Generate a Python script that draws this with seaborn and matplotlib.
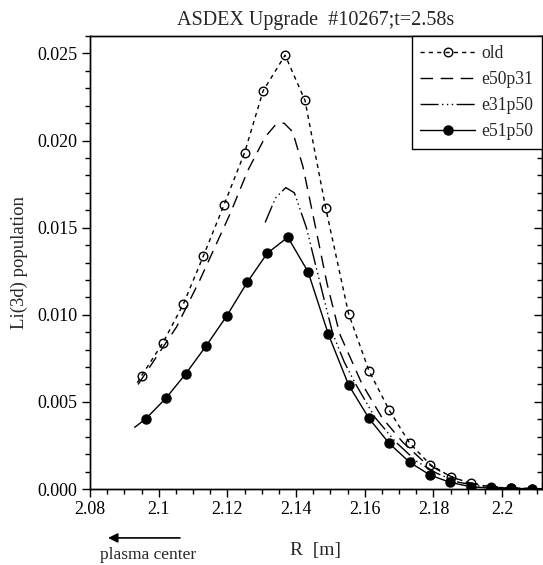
import matplotlib
matplotlib.use("Agg")
import matplotlib.pyplot as plt
import seaborn as sns
from matplotlib.lines import Line2D
from matplotlib.ticker import MultipleLocator, FixedLocator

# ---------------- data ----------------
# "old" (dashed, open circles); first point is the line start (no marker)
R_old = [2.0938, 2.0950, 2.1012, 2.1072, 2.1130, 2.1190, 2.1250, 2.1304, 2.1368,
         2.1426, 2.1486, 2.1553, 2.1612, 2.1671, 2.1731, 2.1791, 2.1850, 2.1908,
         2.1967, 2.2026, 2.2088]
v_old = [0.0061, 0.0065, 0.00838, 0.01062, 0.01337, 0.0163, 0.0193, 0.02285, 0.0249,
         0.0223, 0.01615, 0.01005, 0.0068, 0.00453, 0.00262, 0.0014, 0.00071, 0.00033,
         0.00012, 0.00005, 0.00002]

# "e50p31" (long dashes)
R_e50 = [2.0940, 2.0994, 2.1052, 2.1120, 2.1208, 2.1260, 2.1310, 2.1340, 2.1365,
         2.1390, 2.1420, 2.1460, 2.1490, 2.1527, 2.1591, 2.1650, 2.1710, 2.1770,
         2.1830, 2.1890, 2.1950, 2.2010, 2.2120]
v_e50 = [0.0060, 0.0076, 0.0093, 0.0120, 0.0158, 0.0183, 0.0202, 0.0209, 0.0210,
         0.0205, 0.0185, 0.0147, 0.0118, 0.0089, 0.00607, 0.0041, 0.0027, 0.0016,
         0.0009, 0.0004, 0.0002, 0.00008, 0.00001]

# "e31p50" (dash-dot-dot-dot)
R_e31 = [2.1310, 2.1340, 2.1370, 2.1395, 2.1430, 2.1470, 2.1507, 2.1540, 2.1572,
         2.1630, 2.1690, 2.1750, 2.1810, 2.1870, 2.1930, 2.1990, 2.2120]
v_e31 = [0.0153, 0.0167, 0.0173, 0.0170, 0.0150, 0.0118, 0.0089, 0.0073, 0.00607,
         0.0041, 0.0027, 0.0016, 0.0009, 0.0004, 0.00018, 0.00007, 0.00001]

# "e51p50" (solid, filled circles); first point is line start, last is line end
R_e51 = [2.0930, 2.0962, 2.1021, 2.1079, 2.1138, 2.1198, 2.1258, 2.1316, 2.1376,
         2.1435, 2.1494, 2.1553, 2.1612, 2.1671, 2.1731, 2.1791, 2.1849, 2.1908,
         2.1967, 2.2026, 2.2088, 2.2120]
v_e51 = [0.00354, 0.00402, 0.00521, 0.00662, 0.00821, 0.00993, 0.01187, 0.01353, 0.01445,
         0.01246, 0.00888, 0.00597, 0.00406, 0.00262, 0.00153, 0.00079, 0.00038, 0.00013,
         0.00005, 0.00003, 0.00002, 0.00002]

x_ticks = [2.08, 2.10, 2.12, 2.14, 2.16, 2.18, 2.20]
x_ticklabels = ["2.08", "2.1", "2.12", "2.14", "2.16", "2.18", "2.2"]
y_ticks = [0.000, 0.005, 0.010, 0.015, 0.020, 0.025]
y_ticklabels = ["0.000", "0.005", "0.010", "0.015", "0.020", "0.025"]
labels = ["old", "e50p31", "e31p50", "e51p50"]

# ---------------- style ----------------
sns.set_style("ticks")
plt.rcParams["font.family"] = ["Liberation Serif", "DejaVu Serif"]
plt.rcParams["lines.scale_dashes"] = False
plt.rcParams["axes.linewidth"] = 1.0

ls_old = (0, (3.0, 3.0))
ls_e50 = (0, (9.0, 5.5))
ls_e31 = (0, (13.0, 2.5, 1.0, 2.5, 1.0, 2.5, 1.0, 2.5))

fig = plt.figure(figsize=(5.43, 5.65), dpi=100)
W, H = 543, 565
ax = fig.add_axes([90 / W, (H - 489) / H, 452 / W, 453 / H])

lw = 1.0
sns.lineplot(x=R_old, y=v_old, ax=ax, color="k", linewidth=lw, linestyle=ls_old,
             sort=False, estimator=None, marker="o", markersize=6.2,
             markerfacecolor="none", markeredgecolor="k", markeredgewidth=1.0,
             markevery=list(range(1, len(R_old))))
sns.lineplot(x=R_e50, y=v_e50, ax=ax, color="k", linewidth=lw, linestyle=ls_e50,
             sort=False, estimator=None)
sns.lineplot(x=R_e31, y=v_e31, ax=ax, color="k", linewidth=lw, linestyle=ls_e31,
             sort=False, estimator=None)
sns.lineplot(x=R_e51, y=v_e51, ax=ax, color="k", linewidth=lw, linestyle="-",
             sort=False, estimator=None, marker="o", markersize=6.5,
             markerfacecolor="k", markeredgecolor="k", markeredgewidth=1.0,
             markevery=list(range(1, len(R_e51) - 1)))

ax.set_xlim(2.08, 2.2116)
ax.set_ylim(0.0, 0.0260)

ax.xaxis.set_major_locator(FixedLocator(x_ticks))
ax.set_xticklabels(x_ticklabels)
ax.xaxis.set_minor_locator(MultipleLocator(0.005))
ax.yaxis.set_major_locator(FixedLocator(y_ticks))
ax.set_yticklabels(y_ticklabels)
ax.yaxis.set_minor_locator(MultipleLocator(0.001))

ax.tick_params(which="major", direction="out", length=6, width=1.0,
               labelsize=13, color="k", labelcolor="k", pad=3)
ax.tick_params(which="minor", direction="out", length=3.5, width=1.0, color="k")
ax.tick_params(top=False, right=False, which="both")
for s in ax.spines.values():
    s.set_visible(True)
    s.set_color("k")
    s.set_linewidth(1.0)

# right-hand inward ticks
ax2 = ax.twinx()
ax2.set_ylim(ax.get_ylim())
ax2.yaxis.set_major_locator(FixedLocator(y_ticks))
ax2.yaxis.set_minor_locator(MultipleLocator(0.001))
ax2.tick_params(which="major", direction="in", length=6, width=1.0, labelright=False, color="k")
ax2.tick_params(which="minor", direction="in", length=3.5, width=1.0, color="k")
for s in ax2.spines.values():
    s.set_color("k")
    s.set_linewidth(1.0)

ax.set_title("ASDEX Upgrade  #10267;t=2.58s", fontsize=14.5, pad=8)
ax.set_xlabel("R  [m]", fontsize=14)
ax.xaxis.set_label_coords(0.5, -0.118)
ax.set_ylabel("Li(3d) population", fontsize=13.5)
ax.yaxis.set_label_coords(-0.137, 0.5)

ax.annotate("", xy=(0.040, -0.108), xytext=(0.199, -0.108),
            xycoords="axes fraction", textcoords="axes fraction",
            arrowprops=dict(arrowstyle="-|>", color="k", lw=1.2,
                            mutation_scale=14, shrinkA=0, shrinkB=0),
            annotation_clip=False)
ax.text(0.128, -0.146, "plasma center", transform=ax.transAxes,
        fontsize=12.5, ha="center", va="center")

handles = [
    Line2D([], [], color="k", lw=lw, linestyle=ls_old, marker="o", markersize=6.2,
           markerfacecolor="none", markeredgecolor="k"),
    Line2D([], [], color="k", lw=lw, linestyle=ls_e50),
    Line2D([], [], color="k", lw=lw, linestyle=ls_e31),
    Line2D([], [], color="k", lw=lw, linestyle="-", marker="o", markersize=6.5,
           markerfacecolor="k", markeredgecolor="k"),
]
leg = ax2.legend(handles, labels, loc="upper right", bbox_to_anchor=(1.0, 1.0),
                 borderaxespad=0.0, fontsize=12.7, handlelength=3.1,
                 handletextpad=0.35, labelspacing=0.52, borderpad=0.5,
                 numpoints=1, frameon=True, fancybox=False, framealpha=1.0)
leg.get_frame().set_edgecolor("k")
leg.get_frame().set_linewidth(1.0)

fig.savefig("out.png", dpi=100, facecolor="white")
